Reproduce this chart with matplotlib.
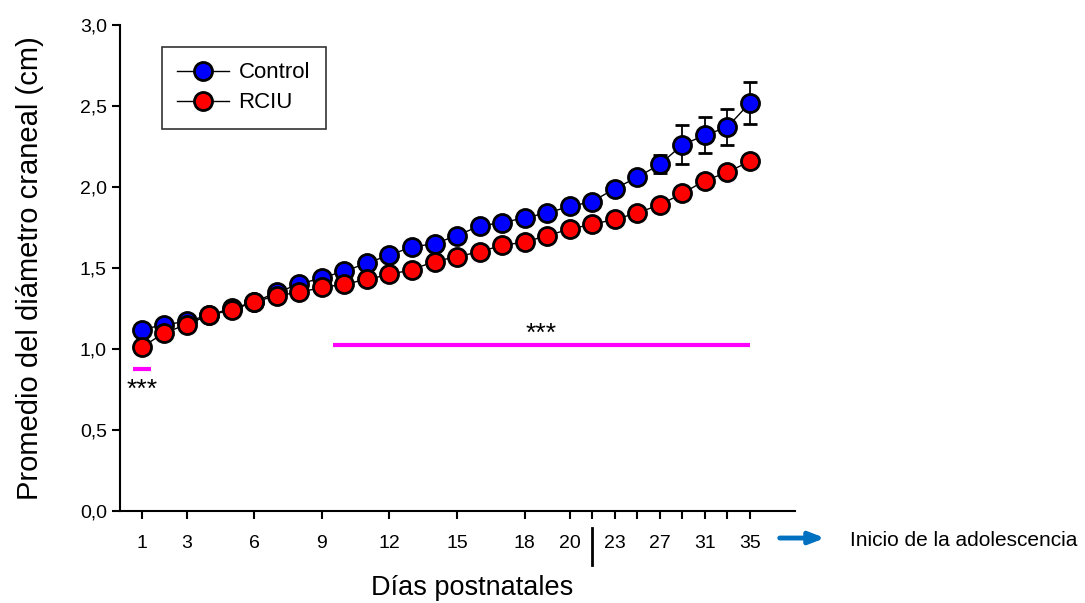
import numpy as np
import matplotlib
matplotlib.use('Agg')
import matplotlib.pyplot as plt
from matplotlib.lines import Line2D

### data ###
# postnatal days; daily up to day 21, then every two days
days = [1, 2, 3, 4, 5, 6, 7, 8, 9, 10, 11, 12, 13, 14, 15, 16, 17, 18, 19, 20, 21,
        23, 25, 27, 29, 31, 33, 35]
control = [1.12, 1.15, 1.17, 1.21, 1.25, 1.29, 1.35, 1.40, 1.44, 1.48, 1.53, 1.58, 1.63, 1.65,
           1.70, 1.76, 1.78, 1.81, 1.84, 1.88, 1.91, 1.99, 2.06, 2.14, 2.26, 2.32, 2.37, 2.52]
control_sem = [0.02, 0.02, 0.02, 0.02, 0.02, 0.02, 0.02, 0.02, 0.02, 0.02, 0.02, 0.02, 0.02, 0.02,
               0.02, 0.02, 0.02, 0.02, 0.02, 0.02, 0.02, 0.02, 0.03, 0.055, 0.12, 0.11, 0.11, 0.13]
rciu = [1.01, 1.10, 1.15, 1.21, 1.24, 1.29, 1.33, 1.35, 1.38, 1.40, 1.43, 1.46, 1.49, 1.54,
        1.57, 1.60, 1.64, 1.66, 1.70, 1.74, 1.77, 1.80, 1.84, 1.89, 1.96, 2.04, 2.09, 2.16]
rciu_sem = [0.02] * len(days)
tick_days = [1, 3, 6, 9, 12, 15, 18, 20, 21, 23, 25, 27, 29, 31, 33, 35]
label_days = [1, 3, 6, 9, 12, 15, 18, 20, 23, 27, 31, 35]

# significance bars (in days)
sig_short = (1, 1)
sig_long = (9.5, 35)

### plotting parameters ###
plt.rcParams['font.family'] = ['Liberation Sans', 'DejaVu Sans']
fs = 21
fssml = 14

slot = np.arange(len(days))
pos = dict(zip(days, slot))

fig = plt.figure(figsize=(10.85, 6.03), dpi=100)
ax = fig.add_axes([0.1106, 0.1526, 0.6221, 0.8059])

ax.errorbar(slot, control, yerr=control_sem, color='black', lw=1, capsize=5, capthick=1.3,
            elinewidth=1.3, marker='o', ms=13, mfc='#0000ff', mec='black', mew=2, zorder=3)
ax.errorbar(slot, rciu, yerr=rciu_sem, color='black', lw=1, capsize=5, capthick=1.3,
            elinewidth=1.3, marker='o', ms=13, mfc='#ff0000', mec='black', mew=2, zorder=4)

# significance markers
ax.plot([pos[sig_short[0]] - 0.38, pos[sig_short[1]] + 0.4], [0.877, 0.877], color='#ff00ff', lw=3, solid_capstyle='butt')
ax.text(pos[sig_short[0]], 0.75, '***', ha='center', va='center', fontsize=19)
x0 = pos[9] + (sig_long[0] - 9)
ax.plot([x0, pos[sig_long[1]]], [1.025, 1.025], color='#ff00ff', lw=3, solid_capstyle='butt')
ax.text((x0 + pos[sig_long[1]]) / 2, 1.095, '***', ha='center', va='center', fontsize=19)

ax.set_xlim(-0.96, 29)
ax.set_ylim(0, 3.0)
ax.set_xticks([pos[d] for d in tick_days])
ax.set_xticklabels([str(d) if d in label_days else '' for d in tick_days])
ax.set_yticks(np.arange(0, 3.01, 0.5))
ax.set_yticklabels([('%.1f' % v).replace('.', ',') for v in np.arange(0, 3.01, 0.5)])
ax.tick_params(axis='both', labelsize=fssml, direction='out', length=6, width=1.5)
ax.tick_params(axis='x', pad=11)
for side in ['top', 'right']:
    ax.spines[side].set_visible(False)
for side in ['left', 'bottom']:
    ax.spines[side].set_linewidth(1.5)

ax.set_ylabel('Promedio del diámetro craneal (cm)', fontsize=fs, labelpad=26)
ax.set_xlabel('Días postnatales', fontsize=19.5, labelpad=17)
ax.xaxis.label.set_x(0.5215)

# separator between juvenile and adolescent days
ax.plot([pos[21], pos[21]], [-0.105, -0.335], color='black', lw=2, clip_on=False)
ax.annotate('', xy=(30.45, -0.167), xytext=(28.2, -0.167), annotation_clip=False,
            arrowprops=dict(arrowstyle='-|>,head_length=0.9,head_width=0.35', color='#0070c0', lw=3.5))
ax.text(31.45, -0.18, 'Inicio de la adolescencia', fontsize=15, ha='left', va='center', clip_on=False)

handles = [Line2D([], [], color='black', lw=1, marker='o', ms=13, mfc=c, mec='black', mew=2)
           for c in ['#0000ff', '#ff0000']]
leg = ax.legend(handles, ['Control', 'RCIU'], loc='upper left', bbox_to_anchor=(0.062, 0.955),
                borderaxespad=0, fontsize=16, frameon=True, fancybox=False, edgecolor='black',
                handlelength=2.3, handletextpad=0.45, borderpad=0.7, labelspacing=0.4)
leg.get_frame().set_linewidth(1.2)

plt.savefig('out.png', dpi=100)
plt.close()
